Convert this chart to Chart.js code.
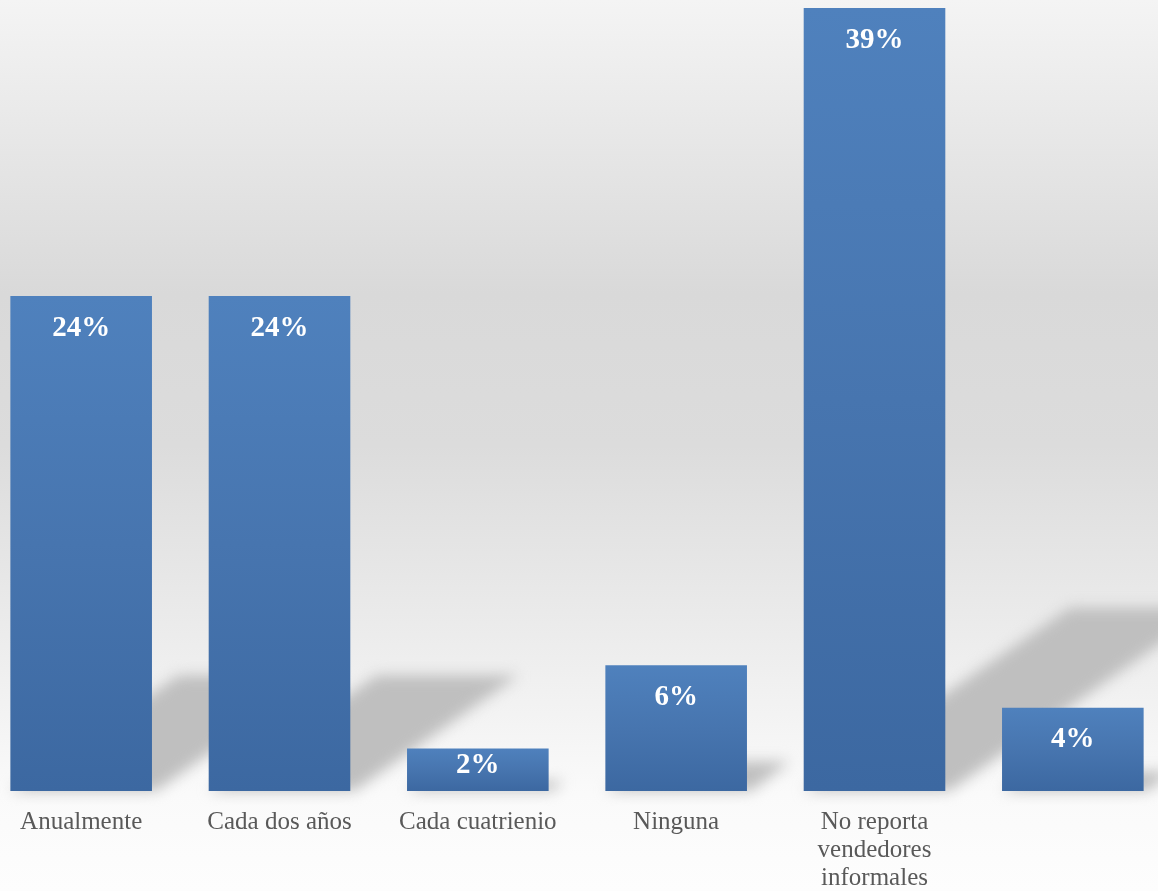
<!DOCTYPE html>
<html lang="es">
<head>
  <meta charset="UTF-8">
  <title>Frecuencia</title>
  <script src="https://cdn.jsdelivr.net/npm/chart.js"></script>
  <style>
    html, body { margin: 0; padding: 0; overflow: hidden; }
    body {
      width: 1158px; height: 891px;
      background: linear-gradient(to bottom, #f4f4f4 0%, #d9d9d9 33%, #dcdcdc 50%, #ebebeb 70%, #fafafa 89%, #fdfdfd 100%);
    }
    .chart-wrapper { position: absolute; left: -18px; top: 0; width: 1190px; height: 891px; }
  </style>
</head>
<body>
  <div class="chart-wrapper">
    <canvas id="freqChart"></canvas>
  </div>

  <script>
    // categorías y valores (porcentaje)
    const categories = ['Anualmente', 'Cada dos años', 'Cada cuatrienio', 'Ninguna', ['No reporta', 'vendedores', 'informales'], ''];
    const values = [24.4, 24.4, 2.1, 6.2, 38.6, 4.1];
    const yMax = 39;

    // sombra diagonal detrás de cada barra
    const barShadows = {
      id: 'barShadows',
      beforeDatasetsDraw(chart) {
        const ctx = chart.ctx;
        const meta = chart.getDatasetMeta(0);
        ctx.save();
        ctx.filter = 'blur(7px)';
        ctx.fillStyle = '#bfbfbf';
        meta.data.forEach(bar => {
          const h = bar.base - bar.y;
          const left = bar.x - bar.width / 2, right = bar.x + bar.width / 2;
          const dx = h * 0.34, dy = h * 0.234;
          ctx.beginPath();
          ctx.moveTo(left, bar.base);
          ctx.lineTo(right + 4, bar.base);
          ctx.lineTo(right + dx, bar.base - dy);
          ctx.lineTo(left + dx, bar.base - dy);
          ctx.closePath();
          ctx.fill();
        });
        ctx.restore();
      }
    };

    // etiquetas de valor dentro de la barra
    const valueLabels = {
      id: 'valueLabels',
      afterDatasetsDraw(chart) {
        const ctx = chart.ctx;
        const meta = chart.getDatasetMeta(0);
        ctx.save();
        ctx.font = 'bold 29px "Liberation Serif", serif';
        ctx.fillStyle = '#ffffff';
        ctx.textAlign = 'center';
        ctx.textBaseline = 'middle';
        meta.data.forEach((bar, i) => {
          const y = Math.min(bar.y + 32, bar.base - 25);
          ctx.fillText(Math.round(values[i]) + '%', bar.x, y);
        });
        ctx.restore();
      }
    };

    const canvas = document.getElementById('freqChart');
    new Chart(canvas, {
      type: 'bar',
      data: {
        labels: categories,
        datasets: [{
          data: values,
          backgroundColor: c => {
            const chart = c.chart;
            if (!chart.chartArea) return '#4a7ab5';
            const y = chart.scales.y;
            const top = y.getPixelForValue(c.raw), base = y.getPixelForValue(0);
            const g = chart.ctx.createLinearGradient(0, top, 0, base);
            g.addColorStop(0, '#4f81bd');
            g.addColorStop(0.5, '#4775af');
            g.addColorStop(1, '#3c68a1');
            return g;
          },
          borderWidth: 0,
          categoryPercentage: 1,
          barPercentage: 0.714
        }]
      },
      options: {
        responsive: true,
        maintainAspectRatio: false,
        animation: false,
        layout: { padding: 0 },
        plugins: {
          legend: { display: false },
          tooltip: { enabled: false }
        },
        scales: {
          x: {
            grid: { display: false, drawTicks: false },
            border: { display: false },
            ticks: {
              color: '#595959',
              font: { family: '"Liberation Serif", serif', size: 25, lineHeight: 1.12 },
              padding: 17,
              maxRotation: 0,
              autoSkip: false
            },
            afterFit: scale => { scale.height = 100; }
          },
          y: {
            display: false,
            min: 0,
            max: yMax
          }
        }
      },
      plugins: [barShadows, valueLabels]
    });
  </script>
</body>
</html>
